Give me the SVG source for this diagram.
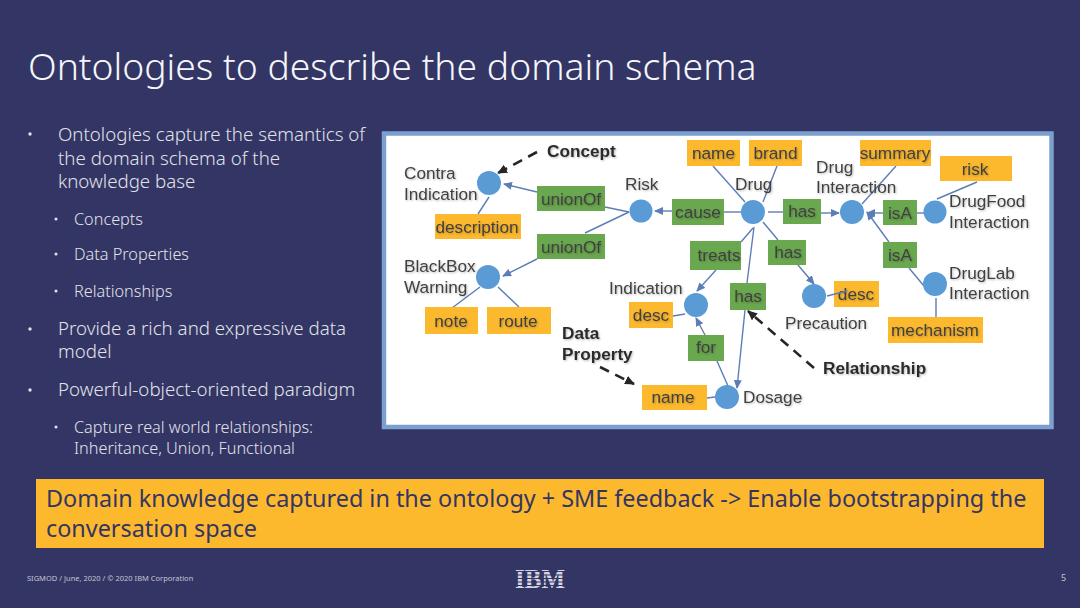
<svg xmlns="http://www.w3.org/2000/svg" width="1080" height="608" viewBox="0 0 1080 608">
<style>
.sans{font-family:"Noto Sans","Open Sans",sans-serif}
.title{font-size:37.300px;fill:#f6f6fa;font-weight:300}
.l1{font-size:18.700px;fill:#e2e2ea;font-weight:300}
.l2{font-size:16.250px;fill:#e2e2ea;font-weight:300}
.dot{fill:#e2e2ea}
.foot{font-size:7.500px;fill:#c4c5d6}
.num{font-size:9px;fill:#c4c5d6}
.banner{font-size:23.380px;fill:#333564}
.lab{font-family:"Liberation Sans",Arial,sans-serif;font-size:17.200px;fill:#404040;filter:url(#soft)}
.mid{text-anchor:middle}
.bold{font-weight:bold;fill:#2b2b2b}
.o{fill:#fdb92e}
.g{fill:#6aa84f}
.n{fill:#5b9bd5}
.c line{stroke:#5d7db5;stroke-width:1.400;fill:none}
.d line{stroke:#262626;stroke-width:2.600;stroke-dasharray:10 7;fill:none}
</style>
<defs>
<filter id="soft" x="-10%" y="-30%" width="120%" height="160%"><feGaussianBlur in="SourceAlpha" stdDeviation="1.200" result="s"/><feOffset in="s" dx="0.500" dy="0.800" result="o"/><feComponentTransfer in="o" result="t"><feFuncA type="linear" slope="0.280"/></feComponentTransfer><feGaussianBlur in="SourceGraphic" stdDeviation="0.250" result="g"/><feMerge><feMergeNode in="t"/><feMergeNode in="g"/></feMerge></filter>
<marker id="a" markerWidth="9" markerHeight="8" refX="8" refY="4" orient="auto" markerUnits="userSpaceOnUse"><path d="M0 0L9 4L0 8Z" fill="#5d7db5"/></marker>
<marker id="b" markerWidth="10" markerHeight="9" refX="9" refY="4.500" orient="auto" markerUnits="userSpaceOnUse"><path d="M0 0L10 4.500L0 9Z" fill="#262626"/></marker>
</defs>
<rect width="1080" height="608" fill="#333564"/>
<text class="sans title" x="28" y="80">Ontologies to describe the domain schema</text>
<g id="bullets">
<circle class="dot" cx="30" cy="134" r="1.700"/><circle class="dot" cx="56" cy="219" r="1.500"/><circle class="dot" cx="56" cy="254" r="1.500"/><circle class="dot" cx="56" cy="291" r="1.500"/><circle class="dot" cx="30" cy="329" r="1.700"/><circle class="dot" cx="30" cy="390" r="1.700"/><circle class="dot" cx="56" cy="427" r="1.500"/>
<text class="sans l1" x="58" y="141">Ontologies capture the semantics of</text>
<text class="sans l1" x="58" y="165">the domain schema of the</text>
<text class="sans l1" x="58" y="188">knowledge base</text>
<text class="sans l2" x="74" y="225">Concepts</text>
<text class="sans l2" x="74" y="260">Data Properties</text>
<text class="sans l2" x="74" y="297">Relationships</text>
<text class="sans l1" x="58" y="335">Provide a rich and expressive data</text>
<text class="sans l1" x="58" y="358">model</text>
<text class="sans l1" x="58" y="396">Powerful-object-oriented paradigm</text>
<text class="sans l2" x="74" y="433">Capture real world relationships:</text>
<text class="sans l2" x="74" y="454">Inheritance, Union, Functional</text>
</g>
<rect id="panel" x="384" y="133.500" width="667.500" height="293.500" fill="#ffffff" stroke="#7ba0d0" stroke-width="4.500"/>
<g id="connectors" class="c">
<line x1="537" y1="192" x2="504" y2="184" marker-end="url(#a)"/>
<line x1="605" y1="207" x2="629" y2="212"/>
<line x1="629" y1="212" x2="585" y2="233"/>
<line x1="537" y1="259" x2="503" y2="276" marker-end="url(#a)"/>
<line x1="672" y1="211" x2="655" y2="211" marker-end="url(#a)"/>
<line x1="742" y1="212" x2="724" y2="212"/>
<line x1="768" y1="212" x2="783" y2="212"/>
<line x1="821" y1="213" x2="839" y2="213" marker-end="url(#a)"/>
<line x1="883" y1="213" x2="867" y2="213" marker-end="url(#a)"/>
<line x1="924" y1="213" x2="917" y2="213"/>
<line x1="889" y1="242" x2="867" y2="212" marker-end="url(#a)"/>
<line x1="924" y1="286" x2="909" y2="268"/>
<line x1="936" y1="298" x2="936" y2="317"/>
<line x1="977" y1="182" x2="937" y2="199"/>
<line x1="896" y1="166" x2="862" y2="204"/>
<line x1="713" y1="166" x2="745" y2="202"/>
<line x1="777" y1="166" x2="763" y2="202"/>
<line x1="753" y1="228" x2="741" y2="242"/>
<line x1="716" y1="270" x2="697" y2="291" marker-end="url(#a)"/>
<line x1="754" y1="227" x2="747" y2="283"/>
<line x1="745" y1="310" x2="737" y2="388" marker-end="url(#a)"/>
<line x1="763" y1="222" x2="778" y2="240"/>
<line x1="798" y1="265" x2="814" y2="284" marker-end="url(#a)"/>
<line x1="728" y1="386" x2="717" y2="361"/>
<line x1="705" y1="335" x2="696" y2="318" marker-end="url(#a)"/>
<line x1="685" y1="314" x2="673" y2="316"/>
<line x1="707" y1="398" x2="715" y2="397"/>
<line x1="452" y1="308" x2="480" y2="287"/>
<line x1="519" y1="307" x2="498" y2="287"/>
<line x1="489" y1="197" x2="478" y2="214"/>
</g>
<g id="callouts" class="d">
<line x1="537" y1="152" x2="498" y2="173" marker-end="url(#b)"/>
<line x1="600" y1="367" x2="634" y2="384" marker-end="url(#b)"/>
<line x1="814" y1="368" x2="748" y2="311" marker-end="url(#b)"/>
</g>
<g id="concept-nodes">
<g id="contra"><circle class="n" cx="489" cy="183" r="12"/><text class="lab" x="404" y="179">Contra</text><text class="lab" x="404" y="200">Indication</text></g>
<g id="risk"><circle class="n" cx="641" cy="211" r="11.500"/><text class="lab" x="625" y="190">Risk</text></g>
<g id="blackbox"><circle class="n" cx="488" cy="277" r="12"/><text class="lab" x="404" y="272">BlackBox</text><text class="lab" x="404" y="293">Warning</text></g>
<g id="indication"><circle class="n" cx="696" cy="305" r="12"/><text class="lab" x="609" y="294">Indication</text></g>
<g id="dosage"><circle class="n" cx="727" cy="397" r="12"/><text class="lab" x="743" y="403">Dosage</text></g>
<g id="drug"><circle class="n" cx="753" cy="212" r="12"/><text class="lab" x="735" y="190">Drug</text></g>
<g id="drug-interaction"><circle class="n" cx="852" cy="212" r="12"/><text class="lab" x="816" y="173">Drug</text><text class="lab" x="816" y="193">Interaction</text></g>
<g id="drugfood"><circle class="n" cx="935" cy="212" r="11.500"/><text class="lab" x="949" y="207">DrugFood</text><text class="lab" x="949" y="228">Interaction</text></g>
<g id="druglab"><circle class="n" cx="935" cy="284" r="12"/><text class="lab" x="949" y="279">DrugLab</text><text class="lab" x="949" y="299">Interaction</text></g>
<g id="precaution"><circle class="n" cx="814" cy="296" r="12"/><text class="lab" x="785" y="329">Precaution</text></g>
</g>
<g id="properties">
<g id="p-name"><rect class="o" x="687" y="140" width="53" height="26"/><text class="lab mid" x="713.500" y="159">name</text></g>
<g id="p-brand"><rect class="o" x="749" y="140" width="53" height="26"/><text class="lab mid" x="775.500" y="159">brand</text></g>
<g id="p-summary"><rect class="o" x="860" y="140" width="71" height="26"/><text class="lab mid" x="895" y="159">summary</text></g>
<g id="p-risk"><rect class="o" x="940" y="156" width="72" height="25"/><text class="lab mid" x="975" y="175">risk</text></g>
<g id="p-desc"><rect class="o" x="834" y="281" width="45" height="26"/><text class="lab mid" x="856" y="300">desc</text></g>
<g id="p-mechanism"><rect class="o" x="888" y="317" width="95" height="26"/><text class="lab mid" x="935" y="336">mechanism</text></g>
<g id="p-name2"><rect class="o" x="642" y="385" width="65" height="25"/><text class="lab mid" x="673" y="403">name</text></g>
<g id="p-desc2"><rect class="o" x="629" y="302" width="44" height="26"/><text class="lab mid" x="651" y="321">desc</text></g>
<g id="p-note"><rect class="o" x="425" y="307" width="53" height="27"/><text class="lab mid" x="451" y="327">note</text></g>
<g id="p-route"><rect class="o" x="487" y="307" width="64" height="27"/><text class="lab mid" x="518" y="327">route</text></g>
<g id="p-description"><rect class="o" x="435" y="214" width="86" height="25"/><text class="lab mid" x="477" y="233">description</text></g>
</g>
<line x1="827" y1="296" x2="847" y2="291" stroke="#5d7db5" stroke-width="1.400"/>
<g id="relations">
<g id="r-union1"><rect class="g" x="537" y="186" width="68" height="25"/><text class="lab mid" x="571" y="205">unionOf</text></g>
<g id="r-union2"><rect class="g" x="537" y="234" width="68" height="25"/><text class="lab mid" x="571" y="253">unionOf</text></g>
<g id="r-cause"><rect class="g" x="672" y="199" width="52" height="26"/><text class="lab mid" x="698" y="218">cause</text></g>
<g id="r-has1"><rect class="g" x="783" y="199" width="38" height="25"/><text class="lab mid" x="802" y="217">has</text></g>
<g id="r-isa1"><rect class="g" x="883" y="200" width="34" height="25"/><text class="lab mid" x="900" y="219">isA</text></g>
<g id="r-isa2"><rect class="g" x="883" y="242" width="34" height="26"/><text class="lab mid" x="900" y="261">isA</text></g>
<g id="r-has2"><rect class="g" x="768" y="240" width="38" height="25"/><text class="lab mid" x="788" y="258">has</text></g>
<g id="r-treats"><rect class="g" x="690" y="241" width="51" height="29"/><text class="lab mid" x="719" y="261">treats</text></g>
<g id="r-has3"><rect class="g" x="730" y="283" width="36" height="27"/><text class="lab mid" x="748" y="302">has</text></g>
<g id="r-for"><rect class="g" x="688" y="335" width="36" height="26"/><text class="lab mid" x="706" y="353">for</text></g>
</g>
<g id="annotations">
<text class="lab bold" x="547" y="157">Concept</text>
<text class="lab bold" x="562" y="339">Data</text>
<text class="lab bold" x="562" y="360">Property</text>
<text class="lab bold" x="823" y="374">Relationship</text>
</g>
<g id="banner-box">
<rect x="36" y="479" width="1008" height="69" fill="#fdb92e"/>
<text class="sans banner" x="46" y="507">Domain knowledge captured in the ontology + SME feedback -&gt; Enable bootstrapping the</text>
<text class="sans banner" x="46" y="537">conversation space</text>
</g>
<g id="footer">
<text class="sans foot" x="27" y="581">SIGMOD / June, 2020 / © 2020 IBM Corporation</text>
<text class="sans num" x="1061" y="581">5</text>
<text x="540" y="588" text-anchor="middle" font-family="'Liberation Serif',serif" font-weight="bold" font-size="27" textLength="50" lengthAdjust="spacingAndGlyphs" fill="#d6d7e2">IBM</text>
<g fill="#333564"><rect x="514" y="571" width="52" height="1"/><rect x="514" y="574.500" width="52" height="1"/><rect x="514" y="578" width="52" height="1"/><rect x="514" y="581.500" width="52" height="1"/><rect x="514" y="585" width="52" height="1"/></g>
</g>
</svg>
